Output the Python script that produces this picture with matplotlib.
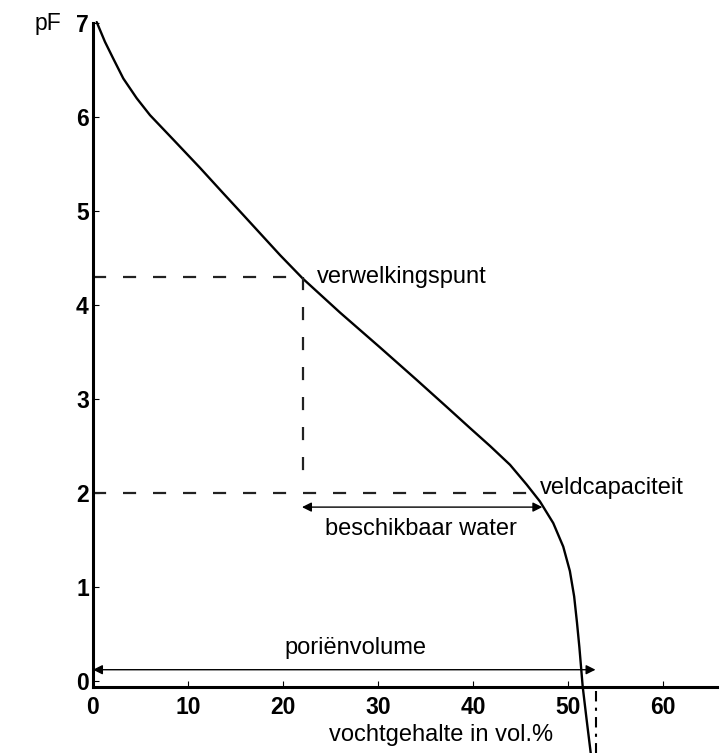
import matplotlib
matplotlib.use("Agg")
import matplotlib.pyplot as plt

# ---- data ----
curve_x = [0.39, 1.26, 2.14, 3.19, 4.6, 6.0, 8.45, 11.26, 13.7, 15.8, 19.7, 22.1, 26.0,
           30.2, 34.0, 37.3, 39.7, 41.8, 43.9, 45.65, 47.05, 48.45, 49.5, 50.2, 50.65,
           50.95, 51.2, 51.55, 51.95, 52.4]
curve_pf = [7.01, 6.80, 6.62, 6.41, 6.20, 6.02, 5.76, 5.46, 5.19, 4.96, 4.53, 4.28, 3.92,
            3.55, 3.21, 2.91, 2.69, 2.50, 2.30, 2.09, 1.91, 1.68, 1.43, 1.17, 0.90,
            0.62, 0.36, -0.06, -0.40, -0.77]

wilting_x, wilting_pf = 22.1, 4.3
fc_x, fc_pf = 46.5, 2.0
pore_volume = 52.9
avail_arrow = (22.0, 47.3, 1.85)

x_ticks = [0, 10, 20, 30, 40, 50, 60]
x_labels = ["0", "10", "20", "30", "40", "50", "60"]
y_ticks = [0, 1, 2, 3, 4, 5, 6, 7]
y_labels = ["0", "1", "2", "3", "4", "5", "6", "7"]

plt.rcParams['font.family'] = ['Liberation Sans', 'DejaVu Sans']

fig = plt.figure(figsize=(7.25, 7.53), dpi=100)
ax = fig.add_axes([0, 0, 1, 1])
ax.set_xlim(-9.79, 66.53)
ax.set_ylim(-0.766, 7.245)

axis_y = -0.06
ax.spines['top'].set_visible(False)
ax.spines['right'].set_visible(False)
ax.spines['left'].set_position(('data', 0))
ax.spines['bottom'].set_position(('data', axis_y))
ax.spines['left'].set_bounds(axis_y, 7.0)
ax.spines['bottom'].set_bounds(0, 65.7)
ax.spines['left'].set_linewidth(2.2)
ax.spines['bottom'].set_linewidth(2.2)

ax.set_xticks(x_ticks)
ax.set_xticklabels(x_labels, fontsize=16.5, fontweight='bold')
ax.set_yticks(y_ticks)
ax.set_yticklabels(y_labels, fontsize=16.5, fontweight='bold')
ax.tick_params(axis='x', direction='in', length=4, width=0.8, pad=7)
ax.tick_params(axis='y', direction='in', length=4, width=0.8, pad=3)

# curve
ax.plot(curve_x, curve_pf, color='black', lw=1.7, solid_capstyle='round',
        solid_joinstyle='round', clip_on=False)

# dashed guide lines
dash = (0, (5.9, 7.6))
ax.plot([0, wilting_x], [wilting_pf, wilting_pf], color='#222222', lw=1.6, linestyle=dash)
ax.plot([wilting_x, wilting_x], [wilting_pf, fc_pf + 0.1], color='#222222', lw=1.6, linestyle=dash)
ax.plot([0, fc_x], [fc_pf, fc_pf], color='#222222', lw=1.6, linestyle=dash)

# dash-dot line below axis at pore volume
ax.plot([pore_volume, pore_volume], [axis_y - 0.05, -0.77], color='black', lw=1.5,
        linestyle=(0, (5, 3, 1.5, 3)))

# arrows
ap = dict(arrowstyle='<|-|>', lw=1.0, color='black', mutation_scale=14, shrinkA=0, shrinkB=0)
ax.annotate('', xy=(avail_arrow[0], avail_arrow[2]), xytext=(avail_arrow[1], avail_arrow[2]),
            arrowprops=ap)
ax.annotate('', xy=(0, 0.12), xytext=(pore_volume, 0.12), arrowprops=ap)

# texts
ax.text(23.6, 4.23, 'verwelkingspunt', fontsize=17, ha='left', va='baseline')
ax.text(47.05, 1.99, 'veldcapaciteit', fontsize=17, ha='left', va='baseline')
ax.text(34.5, 1.55, 'beschikbaar water', fontsize=17, ha='center', va='baseline')
ax.text(27.6, 0.29, 'poriënvolume', fontsize=17, ha='center', va='baseline')
ax.text(36.6, -0.57, 'vochtgehalte in vol.%', fontsize=17, ha='center', va='center')
ax.text(-4.7, 7.0, 'pF', fontsize=16.5, ha='center', va='center')

fig.savefig('out.png', dpi=100)
